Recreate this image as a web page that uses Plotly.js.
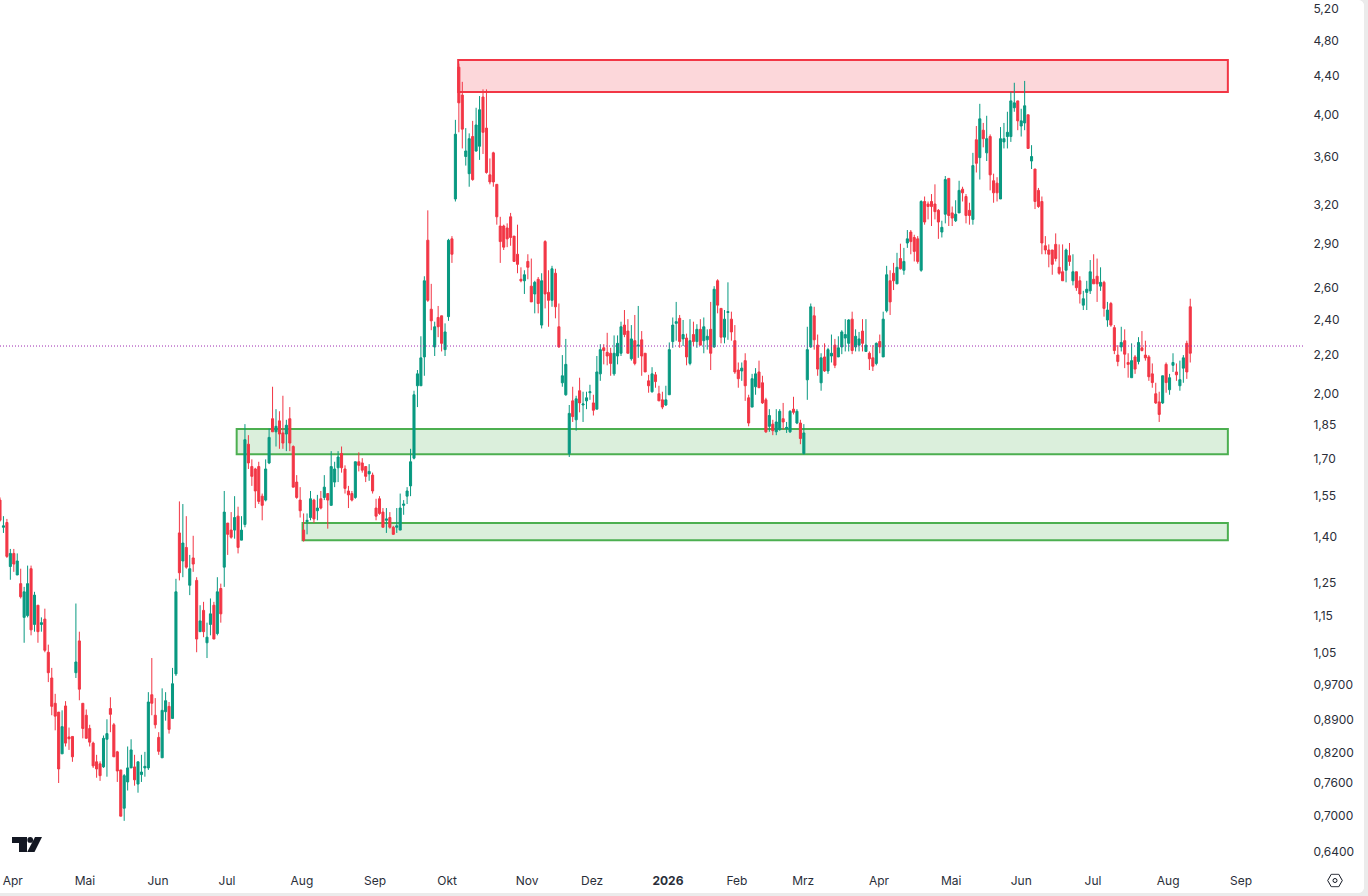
<!DOCTYPE html>
<html>
<head>
<meta charset="utf-8">
<script src="https://cdn.plot.ly/plotly-3.0.1.min.js"></script>
<style>
html,body{margin:0;padding:0;background:#ebebeb;width:1368px;height:896px;overflow:hidden}
#chart{width:1364px;height:893px;background:#fff;overflow:hidden;border-radius:0 6px 6px 0}
</style>
</head>
<body>
<div id="chart"></div>
<script>
const open = [
1.531,1.431,1.448,1.298,1.341,1.271,1.244,1.144,1.149,1.291,
1.124,1.179,1.124,1.139,1.049,.984,.924,.904,.815,.918,
.85,.851,.997,1.079,.924,.897,.868,.837,.799,.795,
.789,.845,.912,.876,.819,.783,.712,.76,.787,.789,
.756,.774,.787,.787,.944,.897,.849,.807,.905,.917,
.89,.994,1.411,1.316,1.361,1.239,1.326,1.254,1.104,1.164,
1.074,1.124,1.179,1.099,1.229,1.296,1.446,1.421,1.421,1.471,
1.386,1.441,1.759,1.664,1.654,1.664,1.546,1.531,1.679,1.874,
1.814,1.864,1.809,1.804,1.874,1.749,1.601,1.531,1.421,1.451,
1.466,1.531,1.491,1.536,1.541,1.556,1.511,1.601,1.659,1.719,
1.654,1.566,1.556,1.541,1.684,1.679,1.664,1.634,1.629,1.501,
1.536,1.486,1.456,1.466,1.431,1.431,1.421,1.511,1.546,1.586,
1.699,2.034,2.034,2.185,2.92,2.46,2.24,2.41,2.42,2.225,
2.415,2.93,3.235,4.488,4.188,3.595,3.445,3.778,3.645,3.688,
4.168,3.858,3.435,3.628,3.355,3.025,3.025,3.01,3.095,2.95,
2.82,2.65,2.64,2.77,2.605,2.555,2.65,2.365,2.91,2.565,
2.515,2.69,2.355,2.049,1.989,1.719,1.959,1.869,2.009,1.939,
1.959,1.999,1.949,1.919,2.095,2.235,2.21,2.205,2.095,2.19,
2.205,2.365,2.33,2.175,2.275,2.245,2.28,2.205,2.059,2.004,
2.09,1.994,1.964,1.939,1.989,2.27,2.375,2.405,2.285,2.29,
2.15,2.31,2.27,2.34,2.275,2.28,2.34,2.24,2.64,2.465,
2.295,2.44,2.40,2.275,2.115,2.11,2.165,1.974,1.929,2.029,
2.105,2.049,1.964,1.839,1.849,1.814,1.824,1.874,1.829,1.814,
1.919,1.854,1.854,1.719,2.064,2.24,2.42,2.25,2.049,2.185,
2.11,2.19,2.25,2.185,2.24,2.29,2.26,2.40,2.24,2.25,
2.33,2.215,2.205,2.18,2.15,2.27,2.185,2.45,2.64,2.69,
2.62,2.79,2.71,2.90,2.98,2.94,2.93,2.71,3.215,3.195,
3.215,3.195,3.145,2.98,3.115,3.405,3.125,3.065,3.125,3.315,
3.255,3.145,3.075,3.748,3.585,3.838,3.628,3.778,3.385,3.365,
3.235,3.728,3.778,3.778,4.058,4.128,3.878,3.908,3.988,3.555,
3.485,3.305,3.215,2.88,2.85,2.85,2.89,2.73,2.70,2.71,
2.81,2.64,2.70,2.64,2.485,2.565,2.575,2.65,2.67,2.605,
2.63,2.395,2.495,2.35,2.195,2.24,2.275,2.155,2.075,2.185,
2.16,2.235,2.195,2.185,2.095,1.994,1.954,1.949,2.145,2.014,
2.14,2.105,2.034,2.125,2.26,2.475
];
const high = [
1.541,1.471,1.461,1.356,1.356,1.341,1.291,1.234,1.301,1.301,
1.219,1.179,1.144,1.169,1.069,1.009,.946,.904,.908,.929,
.87,.851,1.184,1.104,.924,.91,.876,.84,.813,.80,
.853,.888,.938,.88,.821,.783,.775,.83,.845,.813,
.799,.813,.819,.95,1.034,.936,.86,.959,.95,.927,
1.009,1.259,1.526,1.516,1.471,1.336,1.401,1.264,1.179,1.189,
1.129,1.199,1.189,1.264,1.244,1.566,1.446,1.486,1.546,1.506,
1.471,1.849,1.799,1.694,1.659,1.684,1.556,1.694,1.829,2.029,
1.919,1.909,1.984,1.869,1.929,1.754,1.629,1.581,1.481,1.481,
1.566,1.536,1.551,1.566,1.629,1.556,1.729,1.684,1.729,1.749,
1.669,1.586,1.566,1.684,1.724,1.699,1.664,1.674,1.639,1.536,
1.546,1.501,1.501,1.486,1.436,1.501,1.556,1.531,1.581,1.739,
2.009,2.115,2.30,2.67,3.145,2.62,2.385,2.48,2.42,2.375,
2.93,2.95,3.938,4.528,4.328,3.858,3.808,3.928,4.058,4.178,
4.248,4.248,3.578,3.638,3.355,3.095,3.035,3.045,3.125,2.95,
3.035,2.73,2.71,2.82,2.79,2.64,2.665,2.69,2.92,2.71,
2.74,2.72,2.495,2.195,2.285,1.939,2.029,1.984,2.075,2.004,
2.004,2.039,1.989,2.19,2.255,2.255,2.32,2.235,2.305,2.305,
2.385,2.455,2.40,2.365,2.425,2.48,2.33,2.205,2.09,2.13,
2.105,2.034,2.004,2.034,2.265,2.41,2.505,2.425,2.395,2.315,
2.40,2.385,2.37,2.40,2.41,2.34,2.505,2.605,2.65,2.465,
2.455,2.63,2.445,2.365,2.155,2.155,2.205,1.989,2.095,2.125,
2.165,2.085,1.974,1.919,1.869,1.919,1.919,1.949,1.859,1.914,
1.979,1.919,1.869,1.849,2.355,2.495,2.475,2.31,2.205,2.26,
2.235,2.31,2.285,2.30,2.335,2.40,2.40,2.445,2.34,2.325,
2.40,2.40,2.215,2.25,2.265,2.31,2.445,2.74,2.71,2.76,
2.83,2.895,2.865,2.995,2.995,2.96,2.95,3.225,3.255,3.215,
3.275,3.355,3.155,3.065,3.425,3.405,3.175,3.225,3.385,3.335,
3.275,3.205,3.628,3.878,4.098,3.908,3.978,3.798,3.445,3.415,
3.868,3.908,4.018,4.218,4.318,4.128,4.048,4.338,3.988,3.698,
3.485,3.325,3.255,2.95,2.89,2.85,2.97,2.89,2.89,2.86,
2.90,2.82,2.70,2.67,2.575,2.64,2.78,2.82,2.79,2.73,
2.64,2.505,2.505,2.365,2.25,2.355,2.34,2.205,2.26,2.195,
2.295,2.33,2.275,2.195,2.15,2.049,2.004,2.085,2.155,2.095,
2.205,2.15,2.165,2.195,2.275,2.525
];
const low = [
1.451,1.411,1.326,1.256,1.281,1.271,1.199,1.074,1.144,1.094,
1.104,1.074,1.104,1.049,.974,.897,.864,.758,.815,.83,
.823,.799,.984,.931,.847,.847,.83,.787,.768,.762,
.787,.77,.86,.809,.76,.698,.69,.744,.787,.753,
.74,.76,.77,.783,.897,.868,.813,.807,.885,.857,
.89,.989,1.254,1.264,1.291,1.209,1.281,1.049,1.104,1.089,
1.034,1.094,1.084,1.094,1.129,1.234,1.336,1.391,1.391,1.341,
1.386,1.431,1.654,1.586,1.501,1.516,1.456,1.526,1.674,1.814,
1.749,1.739,1.739,1.729,1.729,1.581,1.536,1.466,1.381,1.406,
1.456,1.446,1.456,1.496,1.531,1.426,1.511,1.581,1.601,1.639,
1.556,1.501,1.526,1.536,1.644,1.639,1.601,1.606,1.556,1.456,
1.476,1.431,1.411,1.426,1.406,1.411,1.421,1.476,1.516,1.546,
1.694,1.929,2.034,2.085,2.505,2.335,2.19,2.295,2.215,2.19,
2.39,2.76,3.215,3.818,3.668,3.515,3.335,3.385,3.638,3.565,
3.618,3.445,3.355,3.335,3.035,2.76,2.85,2.87,2.88,2.77,
2.69,2.63,2.555,2.65,2.505,2.435,2.435,2.345,2.465,2.355,
2.475,2.405,2.235,2.029,1.984,1.704,1.859,1.819,1.904,1.859,
1.919,1.964,1.889,1.919,2.059,2.145,2.14,2.085,2.085,2.145,
2.19,2.295,2.205,2.165,2.14,2.18,2.085,2.105,1.999,1.999,
2.024,1.959,1.919,1.934,1.989,2.235,2.275,2.235,2.245,2.14,
2.14,2.245,2.235,2.25,2.205,2.225,2.115,2.235,2.435,2.26,
2.26,2.28,2.275,2.095,2.024,2.059,1.959,1.839,1.929,1.989,
2.024,1.944,1.809,1.814,1.799,1.799,1.819,1.824,1.809,1.809,
1.894,1.849,1.759,1.714,1.964,2.235,2.225,2.085,2.009,2.105,
2.095,2.155,2.125,2.185,2.20,2.215,2.215,2.20,2.215,2.215,
2.215,2.215,2.115,2.11,2.14,2.205,2.185,2.44,2.425,2.58,
2.62,2.715,2.68,2.865,2.82,2.77,2.755,2.70,3.035,3.075,
3.025,3.075,2.93,2.94,3.045,3.025,3.025,3.055,3.125,3.215,
3.045,3.035,3.035,3.455,3.395,3.678,3.555,3.305,3.205,3.215,
3.235,3.668,3.668,3.728,4.018,3.838,3.778,3.838,3.668,3.485,
3.155,3.165,2.82,2.82,2.73,2.68,2.77,2.68,2.64,2.63,
2.74,2.61,2.575,2.495,2.455,2.455,2.555,2.62,2.505,2.575,
2.415,2.355,2.355,2.20,2.135,2.215,2.125,2.075,2.075,2.095,
2.145,2.215,2.165,2.059,2.024,1.944,1.859,1.944,1.999,1.989,
2.105,2.059,2.009,2.049,2.069,2.155
];
const close = [
1.456,1.436,1.331,1.341,1.306,1.316,1.204,1.219,1.244,1.109,
1.209,1.104,1.129,1.054,.997,.917,.895,.785,.872,.837,
.846,.809,1.024,.957,.868,.847,.839,.791,.785,.772,
.847,.857,.899,.809,.781,.698,.772,.787,.823,.764,
.799,.779,.79,.927,.924,.876,.82,.908,.93,.866,
.97,1.219,1.278,1.376,1.296,1.291,1.306,1.084,1.134,1.104,
1.089,1.154,1.084,1.219,1.154,1.486,1.406,1.396,1.466,1.361,
1.421,1.779,1.679,1.624,1.566,1.526,1.511,1.654,1.789,1.814,
1.839,1.804,1.764,1.844,1.764,1.581,1.541,1.491,1.386,1.456,
1.536,1.461,1.501,1.501,1.581,1.531,1.664,1.654,1.704,1.659,
1.576,1.551,1.531,1.684,1.669,1.649,1.624,1.644,1.566,1.471,
1.481,1.431,1.461,1.431,1.406,1.436,1.501,1.516,1.566,1.684,
1.989,2.095,2.18,2.64,2.515,2.39,2.355,2.355,2.26,2.325,
2.92,2.82,3.80,4.108,3.848,3.645,3.758,3.395,3.888,4.038,
3.818,3.455,3.375,3.375,3.095,2.91,2.87,2.93,2.94,2.77,
2.75,2.64,2.68,2.73,2.505,2.63,2.495,2.64,2.555,2.515,
2.72,2.475,2.24,2.085,2.145,1.899,1.884,1.969,1.949,1.944,
1.974,2.004,1.914,2.105,2.225,2.22,2.19,2.15,2.205,2.26,
2.355,2.31,2.205,2.285,2.15,2.25,2.19,2.105,2.034,2.095,
2.055,1.959,1.929,1.964,2.225,2.365,2.385,2.27,2.31,2.185,
2.275,2.27,2.34,2.25,2.355,2.30,2.205,2.585,2.485,2.295,
2.40,2.445,2.325,2.105,2.07,2.125,2.034,1.854,2.07,2.095,
2.024,1.949,1.814,1.889,1.819,1.859,1.909,1.859,1.834,1.909,
1.904,1.909,1.784,1.809,2.225,2.475,2.28,2.12,2.18,2.11,
2.225,2.205,2.14,2.235,2.325,2.31,2.395,2.22,2.30,2.285,
2.26,2.25,2.175,2.135,2.26,2.24,2.40,2.68,2.505,2.64,
2.73,2.72,2.77,2.93,2.91,2.84,2.77,3.215,3.055,3.175,
3.175,3.135,3.055,3.015,3.395,3.105,3.085,3.115,3.305,3.285,
3.105,3.105,3.515,3.535,3.948,3.758,3.758,3.435,3.285,3.285,
3.758,3.758,3.818,4.128,4.108,3.928,3.928,4.078,3.668,3.595,
3.215,3.175,2.90,2.85,2.82,2.75,2.79,2.69,2.64,2.85,
2.77,2.70,2.595,2.555,2.525,2.585,2.70,2.62,2.62,2.63,
2.465,2.455,2.365,2.22,2.16,2.265,2.20,2.145,2.165,2.12,
2.265,2.22,2.18,2.08,2.05,1.949,1.894,2.085,2.05,2.075,
2.155,2.09,2.065,2.18,2.105,2.205
];
const monthLabels = ["Apr","Mai","Jun","Jul","Aug","Sep","Okt","Nov","Dez","<b>2026</b>","Feb","Mrz","Apr","Mai","Jun","Jul","Aug","Sep"];
const monthBars = [3.7,24.6,45.8,65.8,87.5,108.7,129.6,152.8,171.6,193.6,213.6,232.8,254.8,275.7,296,316.8,338.6,359.7];
const priceTicks = [5.2,4.8,4.4,4,3.6,3.2,2.9,2.6,2.4,2.2,2,1.85,1.7,1.55,1.4,1.25,1.15,1.05,0.97,0.89,0.82,0.76,0.70,0.64];
const priceTickLabels = ["5,20","4,80","4,40","4,00","3,60","3,20","2,90","2,60","2,40","2,20","2,00","1,85","1,70","1,55","1,40","1,25","1,15","1,05","0,9700","0,8900","0,8200","0,7600","0,7000","0,6400"];
const supplyZone = {x0:132.8,x1:355.9,y0:4.22,y1:4.57};
const demandZones = [{x0:68.6,x1:355.9,y0:1.716,y1:1.827},{x0:87.7,x1:355.9,y0:1.386,y1:1.446}];
const lastPriceLine = 2.245;

const UP = '#089981', DOWN = '#F23645', TEXT = '#2a2e39';
const W = 1303, H = 865;

const logo = "data:image/svg+xml;utf8," + encodeURIComponent(
 '<svg xmlns="http://www.w3.org/2000/svg" viewBox="0 0 30 15"><path fill="#131722" d="M0 0H15V15H7V6H0Z"/><circle cx="18.2" cy="2.9" r="2.9" fill="#131722"/><path fill="#131722" d="M23 0H30L22.5 15H15.2Z"/></svg>');
const gear = "data:image/svg+xml;utf8," + encodeURIComponent(
 '<svg xmlns="http://www.w3.org/2000/svg" width="16" height="14" viewBox="0 0 16 14"><path fill="none" stroke="#131722" stroke-width="1" d="M0.7 7L4.3 0.7H11.7L15.3 7L11.7 13.3H4.3Z"/><circle cx="8" cy="7" r="2" fill="none" stroke="#131722" stroke-width="1"/></svg>');

const trace = {
  type:'candlestick',
  x: open.map((_,i)=>i),
  open, high, low, close,
  increasing:{line:{color:UP,width:1},fillcolor:UP},
  decreasing:{line:{color:DOWN,width:1},fillcolor:DOWN},
  whiskerwidth:0,
  hoverinfo:'skip',
  showlegend:false
};
function zone(z,color,fill){
  return {type:'rect',xref:'x',yref:'y',x0:z.x0,x1:z.x1,y0:z.y0,y1:z.y1,layer:'below',
          line:{color:color,width:2},fillcolor:fill};
}
const layout = {
  width:1364,height:893,
  margin:{l:0,r:61,t:0,b:28,pad:0},
  paper_bgcolor:'#ffffff',plot_bgcolor:'#ffffff',
  font:{family:'Inter, "Liberation Sans", sans-serif',size:12,color:TEXT},
  showlegend:false,dragmode:false,hovermode:false,boxgap:0.15,
  xaxis:{type:'linear',range:[0,W/3.45],rangeslider:{visible:false},showgrid:false,zeroline:false,showline:false,
         tickmode:'array',tickvals:monthBars,ticktext:monthLabels,ticks:'outside',ticklen:5,tickcolor:'rgba(0,0,0,0)',
         tickfont:{size:12,color:TEXT},fixedrange:true},
  yaxis:{type:'log',side:'right',range:[Math.log10(0.6183),Math.log10(5.304)],showgrid:false,zeroline:false,showline:false,
         tickmode:'array',tickvals:priceTicks,ticktext:priceTickLabels,ticks:'outside',ticklen:7,tickcolor:'rgba(0,0,0,0)',
         tickfont:{size:12,color:TEXT},fixedrange:true,ticklabelshift:1},
  shapes:[
    zone(supplyZone,'#F23645','rgba(242,54,69,0.2)'),
    zone(demandZones[0],'#4CAF50','rgba(76,175,80,0.2)'),
    zone(demandZones[1],'#4CAF50','rgba(76,175,80,0.2)'),
    {type:'line',xref:'paper',yref:'y',x0:0,x1:1,y0:lastPriceLine,y1:lastPriceLine,layer:'above',
     line:{color:'#9C27B0',width:1,dash:'1px,2px'}}
  ],
  images:[
    {source:logo,xref:'paper',yref:'paper',x:12/W,y:1-837/H,sizex:30/W,sizey:15/H,xanchor:'left',yanchor:'top',sizing:'stretch',layer:'above'},
    {source:gear,xref:'paper',yref:'paper',x:1327/W,y:1-873.5/H,sizex:16/W,sizey:14/H,xanchor:'left',yanchor:'top',sizing:'stretch',layer:'above'}
  ]
};
Plotly.newPlot('chart',[trace],layout,{displayModeBar:false,staticPlot:true,responsive:false});
</script>
</body>
</html>
